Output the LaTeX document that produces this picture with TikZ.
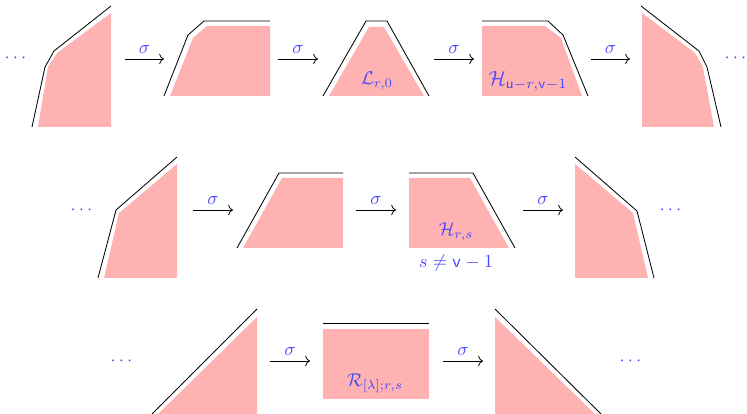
\documentclass[tikz,border=0pt]{standalone}
\usepackage{amsmath,amssymb}
\usetikzlibrary{arrows.meta}
\begin{document}
\begin{tikzpicture}[x=0.54pt,y=-0.54pt,
  region/.style={fill=red!30,draw=none},
  edge/.style={draw=black,line width=0.45pt},
  lab/.style={text=blue!72,inner sep=0pt},
  sig/.style={-{Computer Modern Rightarrow[length=2.6pt,width=5.6pt]},line width=0.45pt},
  siglab/.style={above=2.5pt,text=blue!72,inner sep=0pt}]
\useasboundingbox (0,0) rectangle (747,414);
% ---------- row 1 ----------
\node[lab] (d1l) at (17,58) {$\cdots$};
\fill[region] (38,127) -- (48,67) -- (57,53) -- (111,13) -- (111,127) -- cycle;
\draw[edge] (32,127) -- (45,67) -- (54,51) -- (111,6);
\coordinate (a1s) at (125,59); \coordinate (a1e) at (164,59);
\draw[sig] (a1s) -- node[siglab] {$\sigma$} (a1e);
\fill[region] (170,96) -- (193,38) -- (207,26) -- (270,26) -- (270,96) -- cycle;
\draw[edge] (164,96) -- (188,35) -- (204,21) -- (270,21);
\coordinate (a2s) at (278,59); \coordinate (a2e) at (318,59);
\draw[sig] (a2s) -- node[siglab] {$\sigma$} (a2e);
\fill[region] (329,96) -- (369,27) -- (384,27) -- (424,96) -- cycle;
\draw[edge] (323,96) -- (366,21) -- (387,21) -- (429,96);
\node[lab] (L) at (377,81) {$\mathcal{L}_{r,0}$};
\coordinate (a3s) at (434,59); \coordinate (a3e) at (474,59);
\draw[sig] (a3s) -- node[siglab] {$\sigma$} (a3e);
\fill[region] (482,26) -- (545,26) -- (561,38) -- (582,96) -- (482,96) -- cycle;
\draw[edge] (482,21) -- (548,21) -- (563,35) -- (588,96);
\node[lab,scale=1.1] (H1) at (528,81) {$\mathcal{H}_{\mathsf{u}-r,\mathsf{v}-1}$};
\coordinate (a4s) at (591,59); \coordinate (a4e) at (630,59);
\draw[sig] (a4s) -- node[siglab] {$\sigma$} (a4e);
\fill[region] (642,13) -- (695,53) -- (703,67) -- (714,127) -- (642,127) -- cycle;
\draw[edge] (641,6) -- (699,51) -- (707,67) -- (721,127);
\node[lab] (d1r) at (737,58) {$\cdots$};
% ---------- row 2 ----------
\node[lab] (d2l) at (83,210) {$\cdots$};
\fill[region] (104,278) -- (119,213) -- (177,164) -- (177,278) -- cycle;
\draw[edge] (98,278) -- (116,210) -- (177,157);
\coordinate (b1s) at (193,210); \coordinate (b1e) at (233,210);
\draw[sig] (b1s) -- node[siglab] {$\sigma$} (b1e);
\fill[region] (243,248) -- (282,178) -- (343,178) -- (343,248) -- cycle;
\draw[edge] (237,248) -- (279,173) -- (343,173);
\coordinate (b2s) at (356,210); \coordinate (b2e) at (396,210);
\draw[sig] (b2s) -- node[siglab] {$\sigma$} (b2e);
\fill[region] (409,178) -- (470,178) -- (509,248) -- (409,248) -- cycle;
\draw[edge] (409,173) -- (473,173) -- (515,248);
\node[lab] (H2) at (456,232) {$\mathcal{H}_{r,s}$};
\node[lab] (cond) at (456,263) {$s\neq\mathsf{v}-1$};
\coordinate (b3s) at (523,210); \coordinate (b3e) at (563,210);
\draw[sig] (b3s) -- node[siglab] {$\sigma$} (b3e);
\fill[region] (575,164) -- (633,213) -- (648,278) -- (575,278) -- cycle;
\draw[edge] (575,157) -- (637,211) -- (654,278);
\node[lab] (d2r) at (672,210) {$\cdots$};
% ---------- row 3 ----------
\node[lab] (d3l) at (123,361) {$\cdots$};
\fill[region] (158,414) -- (257,317) -- (257,414) -- cycle;
\draw[edge] (152,414) -- (257,309);
\coordinate (c1s) at (270,361); \coordinate (c1e) at (310,361);
\draw[sig] (c1s) -- node[siglab] {$\sigma$} (c1e);
\fill[region] (323,329) rectangle (429,399);
\draw[edge] (323,323) -- (429,323);
\node[lab] (R) at (375,383) {$\mathcal{R}_{[\lambda];r,s}$};
\coordinate (c2s) at (443,361); \coordinate (c2e) at (483,361);
\draw[sig] (c2s) -- node[siglab] {$\sigma$} (c2e);
\fill[region] (495,317) -- (595,414) -- (495,414) -- cycle;
\draw[edge] (495,309) -- (601,414);
\node[lab] (d3r) at (632,361) {$\cdots$};
\end{tikzpicture}
\end{document}
